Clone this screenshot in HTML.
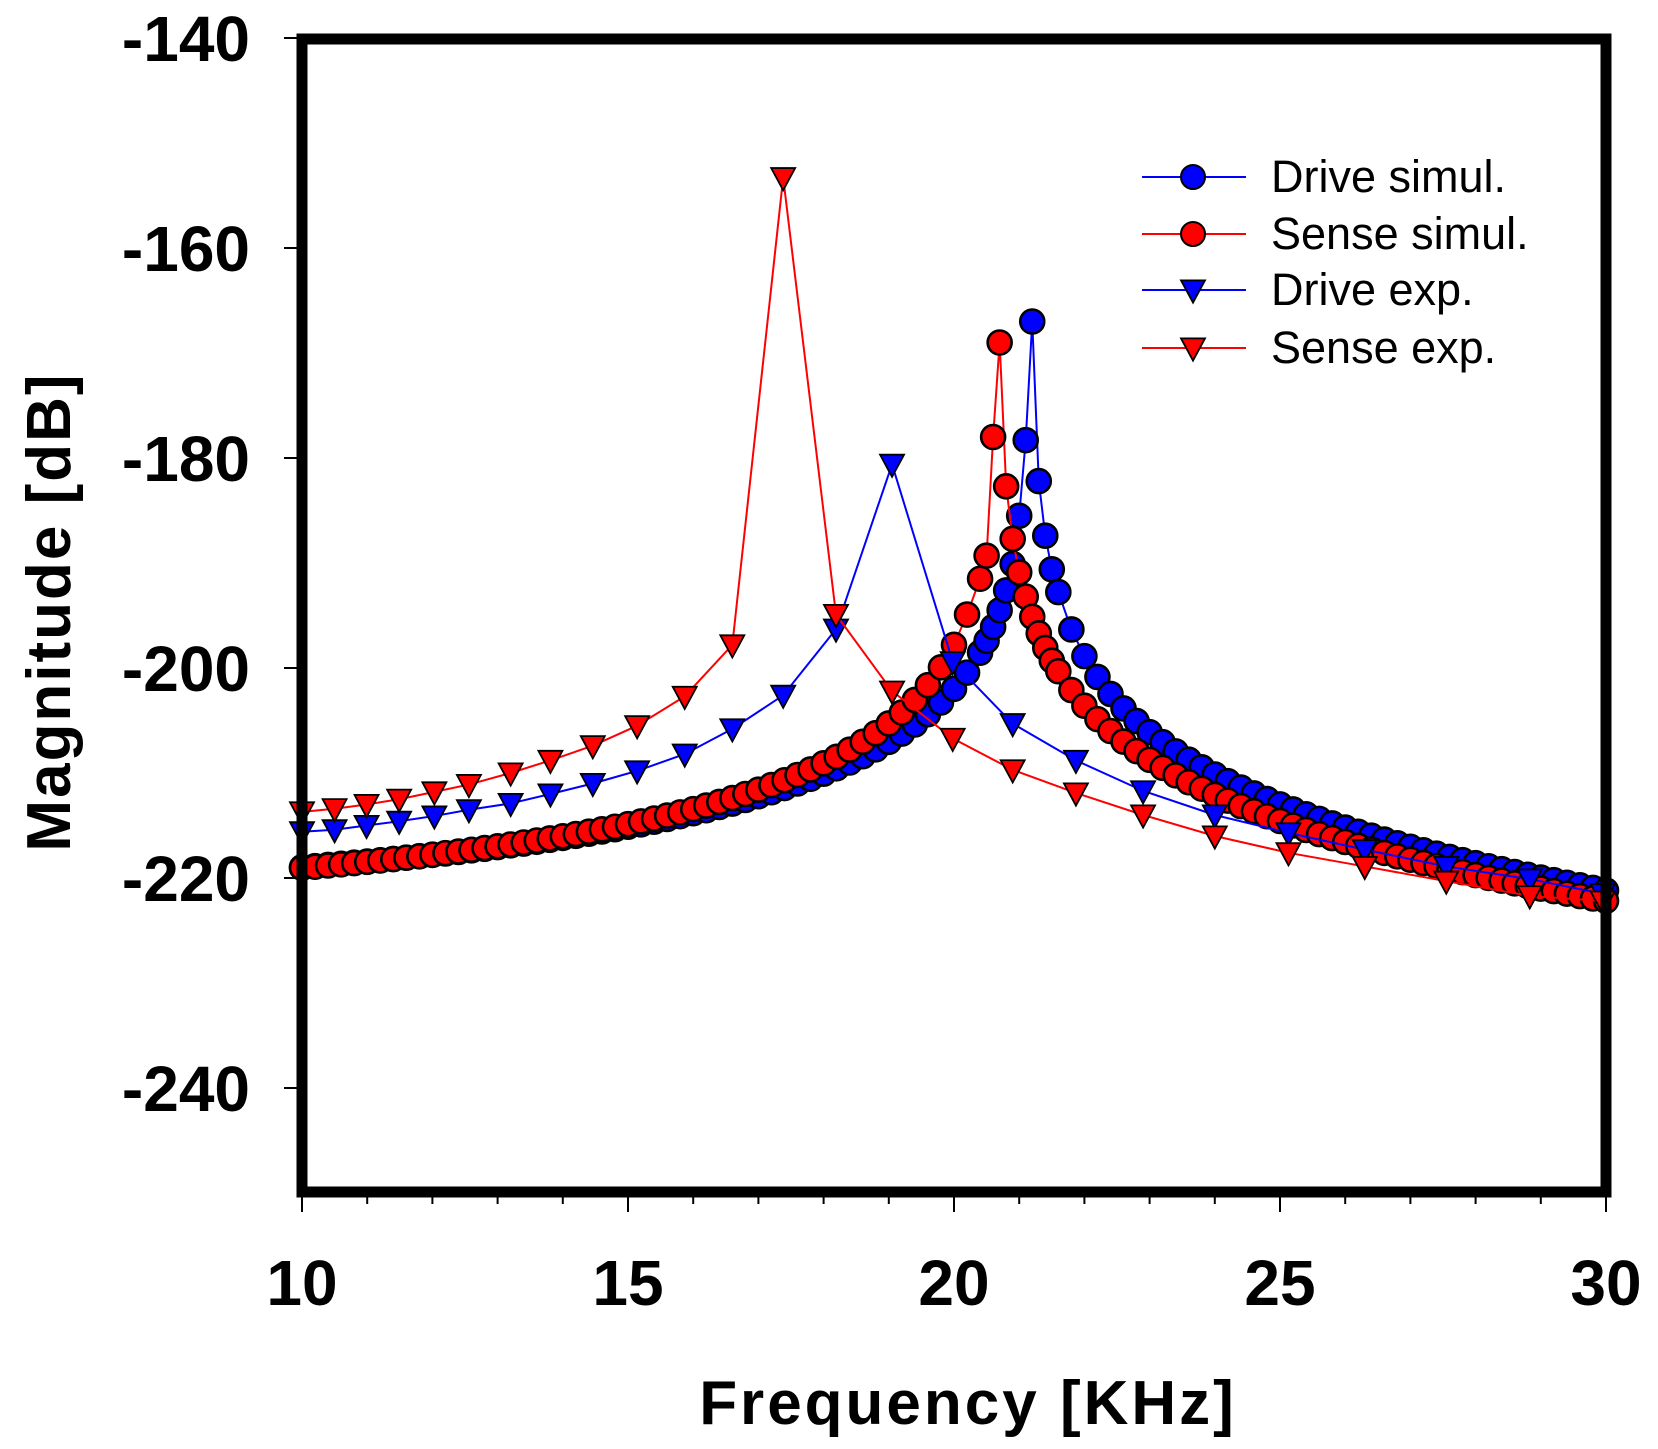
<!DOCTYPE html>
<html><head><meta charset="utf-8"><style>
html,body{margin:0;padding:0;background:#fff;}
svg{display:block;}
text{font-family:"Liberation Sans",Arial,sans-serif;}
</style></head><body>
<svg id="chart" width="1658" height="1449" viewBox="0 0 1658 1449" xmlns="http://www.w3.org/2000/svg">
<g id="series"></g>
<rect x="302" y="39" width="1304" height="1153" fill="none" stroke="#000" stroke-width="11"/>
<g id="axes"></g>
<text x="968" y="1424" font-size="62" font-weight="bold" text-anchor="middle" letter-spacing="3">Frequency [KHz]</text>
<text transform="translate(70,612) rotate(-90)" font-size="62" font-weight="bold" text-anchor="middle" letter-spacing="2">Magnitude [dB]</text>
<g id="legend"></g>
</svg>
<script>
const xTicks=[10,15,20,25,30];
const yTicks=[-140,-160,-180,-200,-220,-240];
const simFreq=[10,10.2,10.4,10.6,10.8,11,11.2,11.4,11.6,11.8,12,12.2,12.4,12.6,12.8,13,13.2,13.4,13.6,13.8,14,14.2,14.4,14.6,14.8,15,15.2,15.4,15.6,15.8,16,16.2,16.4,16.6,16.8,17,17.2,17.4,17.6,17.8,18,18.2,18.4,18.6,18.8,19,19.2,19.4,19.6,19.8,20,20.2,20.4,20.5,20.6,20.7,20.8,20.9,21.0,21.1,21.2,21.3,21.4,21.5,21.6,21.8,22,22.2,22.4,22.6,22.8,23,23.2,23.4,23.6,23.8,24,24.2,24.4,24.6,24.8,25,25.2,25.4,25.6,25.8,26,26.2,26.4,26.6,26.8,27,27.2,27.4,27.6,27.8,28,28.2,28.4,28.6,28.8,29,29.2,29.4,29.6,29.8,30];
const driveSim=[-218.97,-218.87,-218.76,-218.65,-218.54,-218.43,-218.31,-218.19,-218.06,-217.93,-217.8,-217.66,-217.52,-217.37,-217.22,-217.06,-216.89,-216.72,-216.55,-216.37,-216.18,-215.98,-215.78,-215.57,-215.35,-215.12,-214.89,-214.64,-214.38,-214.11,-213.83,-213.54,-213.23,-212.91,-212.57,-212.21,-211.83,-211.43,-211.0,-210.55,-210.07,-209.55,-209.0,-208.4,-207.75,-207.03,-206.25,-205.38,-204.4,-203.28,-201.98,-200.44,-198.54,-197.4,-196.09,-194.5,-192.61,-190.1,-185.5,-178.3,-167,-182.2,-187.4,-190.6,-192.77,-196.33,-198.87,-200.85,-202.47,-203.85,-205.05,-206.11,-207.07,-207.94,-208.73,-209.46,-210.15,-210.78,-211.38,-211.95,-212.48,-212.99,-213.47,-213.93,-214.37,-214.8,-215.2,-215.6,-215.97,-216.34,-216.69,-217.03,-217.36,-217.68,-217.99,-218.3,-218.59,-218.88,-219.16,-219.43,-219.7,-219.96,-220.21,-220.46,-220.7,-220.94,-221.18];
const senseSim=[-219.03,-218.92,-218.81,-218.7,-218.58,-218.46,-218.33,-218.2,-218.07,-217.93,-217.78,-217.63,-217.48,-217.32,-217.15,-216.98,-216.81,-216.62,-216.43,-216.23,-216.03,-215.82,-215.59,-215.36,-215.12,-214.87,-214.61,-214.34,-214.05,-213.75,-213.44,-213.1,-212.76,-212.39,-212.0,-211.59,-211.15,-210.69,-210.19,-209.66,-209.08,-208.46,-207.78,-207.03,-206.21,-205.28,-204.24,-203.04,-201.63,-199.93,-197.79,-194.91,-191.5,-189.3,-178,-169,-182.7,-187.7,-190.9,-193.2,-195.12,-196.7,-198.09,-199.3,-200.31,-202.1,-203.59,-204.87,-206.0,-207.01,-207.91,-208.74,-209.51,-210.22,-210.88,-211.49,-212.08,-212.63,-213.15,-213.64,-214.12,-214.57,-215.0,-215.42,-215.82,-216.2,-216.57,-216.93,-217.28,-217.61,-217.94,-218.26,-218.57,-218.86,-219.16,-219.44,-219.72,-219.99,-220.25,-220.51,-220.76,-221.01,-221.25,-221.49,-221.72,-221.95,-222.17];
const expFreq=[10,10.5,10.99,11.49,12.03,12.56,13.2,13.81,14.46,15.14,15.87,16.6,17.38,18.19,19.05,19.98,20.9,21.87,22.9,24.0,25.13,26.3,27.55,28.83,29.95];
const senseExp=[-213.7,-213.4,-213.0,-212.5,-211.8,-211.1,-210.0,-208.8,-207.4,-205.5,-202.7,-197.8,-153.3,-194.9,-202.2,-206.7,-209.7,-211.9,-214.0,-216.0,-217.6,-218.9,-220.3,-221.7,-222.2];
const driveExp=[-215.6,-215.4,-215.0,-214.6,-214.1,-213.5,-212.9,-212.0,-211.0,-209.8,-208.2,-205.8,-202.6,-196.3,-180.6,-199.4,-205.3,-208.8,-211.7,-214.0,-215.7,-217.3,-218.9,-220.1,-221.5];
const legendLabels=["Drive simul.","Sense simul.","Drive exp.","Sense exp."];

const NS="http://www.w3.org/2000/svg";
function X(f){return 302+(f-10)*65.2;}
function Y(v){return 38+(-140-v)*10.5;}
function mk(tag,attrs,parent){const e=document.createElementNS(NS,tag);for(const k in attrs)e.setAttribute(k,attrs[k]);parent.appendChild(e);return e;}
const series=document.getElementById('series');
const axes=document.getElementById('axes');
const legend=document.getElementById('legend');
const BLUE="#0000ff",RED="#ff0000";

function tri(cx,cy,col,parent){
  const s=12;
  return mk('polygon',{points:`${cx-s},${cy-s*0.8} ${cx+s},${cy-s*0.8} ${cx},${cy+s*1.05}`,fill:col,stroke:"#000","stroke-width":1.8},parent);
}
function drawSeries(fx,vals,col,shape,name){
  const g=mk('g',{},series);
  
  
  const pts=fx.map((f,i)=>X(f)+","+Y(vals[i])).join(" ");
  const line=mk('polyline',{points:pts,fill:"none",stroke:col,"stroke-width":2},g);
  
  
  fx.forEach((f,i)=>{
    let m;
    if(shape==='c') m=mk('circle',{cx:X(f),cy:Y(vals[i]),r:12,fill:col,stroke:"#000","stroke-width":2.6},g);
    else m=tri(X(f),Y(vals[i]),col,g);
    
    
  });
}
drawSeries(simFreq,driveSim,BLUE,'c','drive-simul-series');
drawSeries(simFreq,senseSim,RED,'c','sense-simul-series');
drawSeries(expFreq,driveExp,BLUE,'t','drive-exp-series');
drawSeries(expFreq,senseExp,RED,'t','sense-exp-series');

yTicks.forEach(v=>{
  const t=mk('line',{x1:284,x2:297,y1:Y(v),y2:Y(v),stroke:"#000","stroke-width":2},axes);
  
  
  const l=mk('text',{x:250,y:Y(v)+23,"font-size":64,"font-weight":"bold","text-anchor":"end"},axes);
  
  
  l.textContent=v;
});
for(let f=10;f<=30;f++){
  const major=(f%5===0);
  const t=mk('line',{x1:X(f),x2:X(f),y1:1197,y2:major?1212:1204,stroke:"#000","stroke-width":2},axes);
  
  
}
xTicks.forEach(f=>{
  const l=mk('text',{x:X(f),y:1305,"font-size":64,"font-weight":"bold","text-anchor":"middle"},axes);
  
  
  l.textContent=f;
});

const legCols=[BLUE,RED,BLUE,RED];
const legShapes=['c','c','t','t'];
const legY=[177,234,290,348];
legendLabels.forEach((lab,i)=>{
  const g=mk('g',{},legend);
  
  
  mk('line',{x1:1142,x2:1246,y1:legY[i],y2:legY[i],stroke:legCols[i],"stroke-width":2},g);
  if(legShapes[i]==='c') mk('circle',{cx:1193,cy:legY[i],r:12,fill:legCols[i],stroke:"#000","stroke-width":2},g);
  else tri(1193,legY[i],legCols[i],g);
  const t=mk('text',{x:1271,y:legY[i]+15,"font-size":45},g);
  
  
  t.textContent=lab;
});
</script>
</body></html>
